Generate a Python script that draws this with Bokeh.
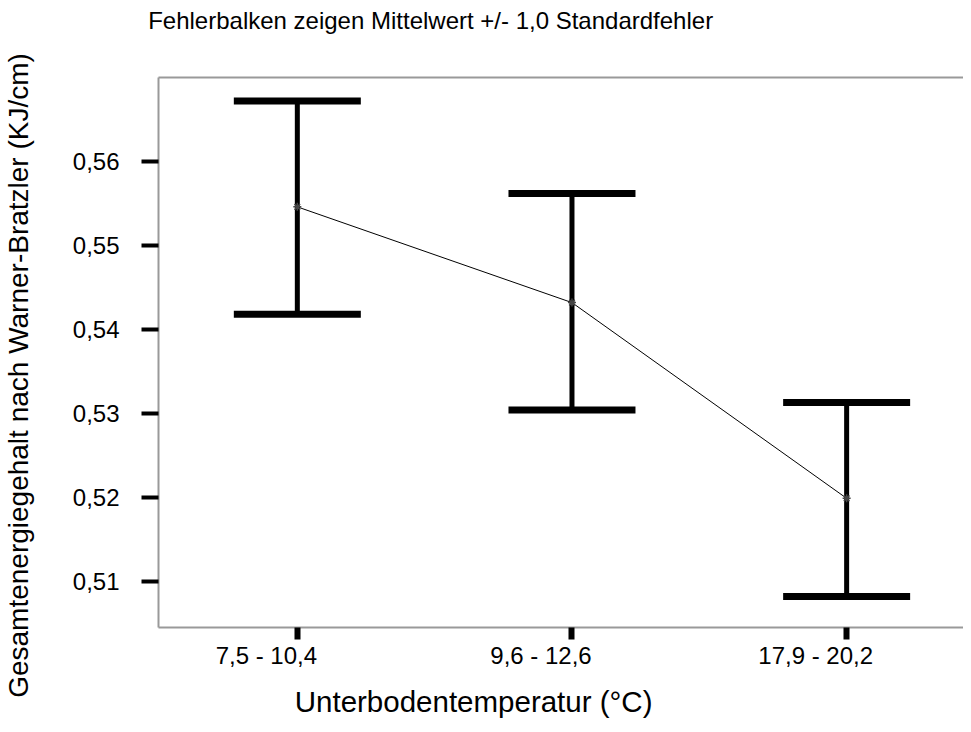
from bokeh.plotting import figure
from bokeh.models import (ColumnDataSource, Whisker, TeeHead, Range1d, FixedTicker,
                          CustomJSTickFormatter, LinearAxis)
from bokeh.embed import file_html
from bokeh.resources import INLINE

# ---- data ----
categories = ["7,5 - 10,4", "9,6 - 12,6", "17,9 - 20,2"]
means = [0.5546, 0.5432, 0.5199]
upper = [0.5672, 0.5562, 0.5313]
lower = [0.5418, 0.5304, 0.5082]
y_ticks = [0.51, 0.52, 0.53, 0.54, 0.55, 0.56]
title_text = "Fehlerbalken zeigen Mittelwert +/- 1,0 Standardfehler"
x_label = "Unterbodentemperatur (°C)"
y_label = "Gesamtenergiegehalt nach Warner-Bratzler (KJ/cm)"

xpos = [i + 0.5 for i in range(len(categories))]
src = ColumnDataSource(dict(x=xpos, mean=means, upper=upper, lower=lower))

FONT = "Liberation Sans"
X0, X1 = -0.00545, 2.9255
Y0, Y1 = 0.50452, 0.5700
PX_X = 275.0      # pixels per x unit
PX_Y = 8400.0     # pixels per y unit
LEFT, TOP = 157, 77
LABEL_SHIFT = -31 / PX_X   # category labels sit a little left of their ticks


def dx(px):  # screen x -> data x (for text anchors only)
    return X0 + (px - LEFT) / PX_X


def dy(py):  # screen y -> data y (for text anchors only)
    return Y1 + (TOP - py) / PX_Y


p = figure(width=963, height=724, output_backend="svg", toolbar_location=None,
           x_range=Range1d(X0, X1), y_range=Range1d(Y0, Y1),
           min_border_left=LEFT, min_border_top=TOP, min_border_bottom=97,
           min_border_right=0, background_fill_color="white",
           border_fill_color="white", outline_line_color=None)
p.grid.visible = False

# main axes
for ax in (p.xaxis[0], p.yaxis[0]):
    ax.axis_line_color = "#999999"
    ax.axis_line_width = 2
    ax.major_tick_line_color = "black"
    ax.minor_tick_line_color = None
    ax.major_tick_in = 0
    ax.major_label_text_font = FONT
    ax.major_label_text_color = "black"
    ax.major_label_text_font_size = "24px"

# x axis: tick marks only (labels drawn by a second axis just below)
p.xaxis.ticker = FixedTicker(ticks=xpos)
p.xaxis.major_label_text_font_size = "1px"
p.xaxis.major_label_text_color = None
p.xaxis.major_label_standoff = 0
p.xaxis.major_tick_out = 12
p.xaxis.major_tick_line_width = 6

p.yaxis.ticker = FixedTicker(ticks=y_ticks)
p.yaxis.formatter = CustomJSTickFormatter(code="return tick.toFixed(2).replace('.', ',');")
p.yaxis.major_tick_out = 17
p.yaxis.major_tick_line_width = 4
p.yaxis.major_label_standoff = 22


def text_axis(ticks, texts, size, standoff, line_color=None, orientation="horizontal"):
    return LinearAxis(ticker=FixedTicker(ticks=ticks),
                      major_label_overrides=dict(zip(ticks, texts)),
                      major_label_text_font=FONT, major_label_text_font_size=size,
                      major_label_text_color="black", major_label_standoff=standoff,
                      major_label_orientation=orientation,
                      axis_line_color=line_color, axis_line_width=2,
                      major_tick_line_color=None, minor_tick_line_color=None,
                      major_tick_out=0, major_tick_in=0)


# top border line carrying the subtitle
title_w = 565  # approx. rendered width of the subtitle in px
p.add_layout(text_axis([dx(147 + title_w / 2)], [title_text], "24px", 44,
                       line_color="#999999"), "above")
# category labels
p.add_layout(text_axis([x + LABEL_SHIFT for x in xpos], categories, "24px", 2), "below")
# x axis title
p.add_layout(text_axis([dx(472.5)], [x_label], "29.5px", 13), "below")
# y axis title
p.add_layout(text_axis([dy(375)], [y_label], "28px", 35, orientation="vertical"), "left")

# error bars
w = Whisker(source=src, base="x", upper="upper", lower="lower",
            line_color="black", line_width=5,
            upper_head=TeeHead(size=127, line_width=7, line_color="black"),
            lower_head=TeeHead(size=127, line_width=7, line_color="black"))
p.add_layout(w)

# mean line and markers
p.line("x", "mean", source=src, line_color="black", line_width=1)
p.scatter("x", "mean", source=src, marker="asterisk", size=8,
          line_color="#444444", line_width=1.5)

open("out.html", "w").write(file_html(p, INLINE))
